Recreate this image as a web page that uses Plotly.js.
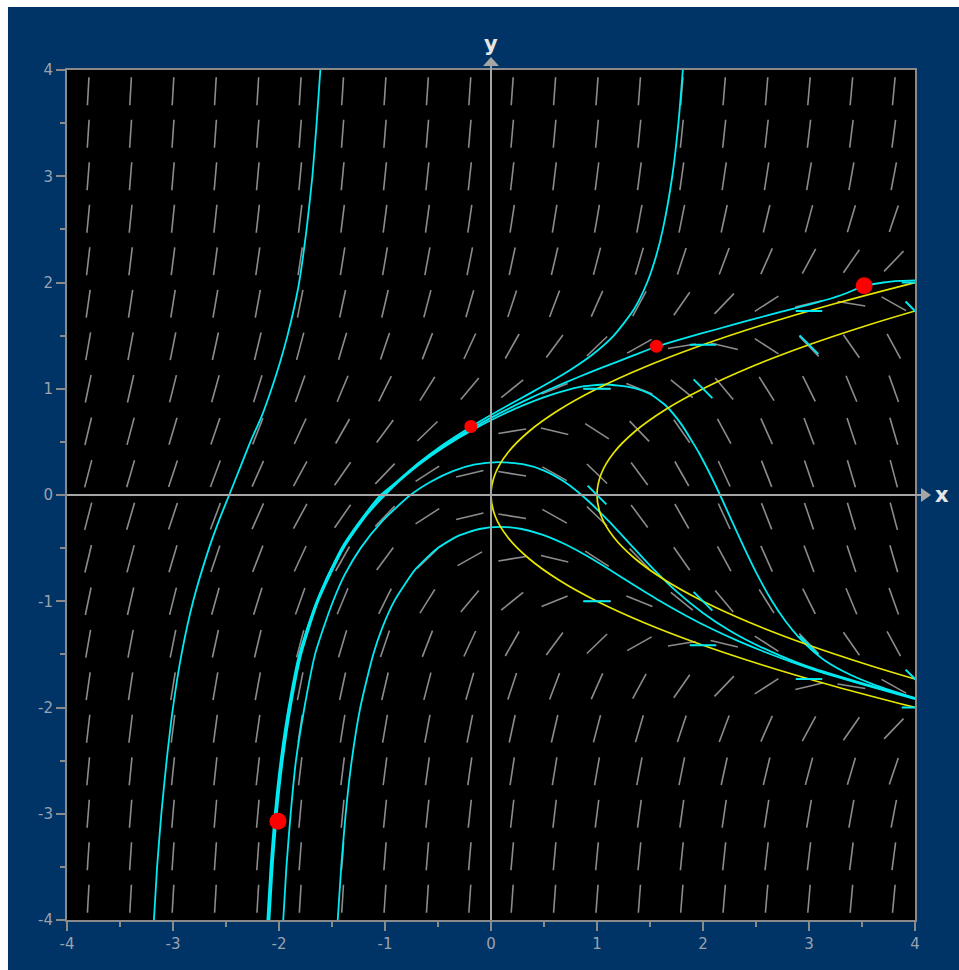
<!DOCTYPE html>
<html>
<head>
<meta charset="utf-8">
<script src="https://cdn.plot.ly/plotly-3.0.1.min.js"></script>
<style>html,body{margin:0;padding:0;background:#fff;}#chart{width:959px;height:970px;}</style>
</head>
<body>
<div id="chart"></div>
<script>
// ---- Direction field of y' = y^2 - x ----
const gridX = [-3.8,-3.4,-3.0,-2.6,-2.2,-1.8,-1.4,-1.0,-0.6,-0.2,0.2,0.6,1.0,1.4,1.8,2.2,2.6,3.0,3.4,3.8];
const gridY = [-3.8,-3.4,-3.0,-2.6,-2.2,-1.8,-1.4,-1.0,-0.6,-0.2,0.2,0.6,1.0,1.4,1.8,2.2,2.6,3.0,3.4,3.8];
function slope(x, y) { return y * y - x; }

// ---- Isoclines (yellow) ----
const iso0Y = [-2,-1.8,-1.6,-1.4,-1.2,-1,-0.8,-0.6,-0.4,-0.2,0,0.2,0.4,0.6,0.8,1,1.2,1.4,1.6,1.8,2];
const iso0X = [4,3.24,2.56,1.96,1.44,1,0.64,0.36,0.16,0.04,0,0.04,0.16,0.36,0.64,1,1.44,1.96,2.56,3.24,4];
const iso1Y = [-1.732,-1.6,-1.4,-1.2,-1,-0.8,-0.6,-0.4,-0.2,0,0.2,0.4,0.6,0.8,1,1.2,1.4,1.6,1.732];
const iso1X = [4,3.56,2.96,2.44,2,1.64,1.36,1.16,1.04,1,1.04,1.16,1.36,1.64,2,2.44,2.96,3.56,4];

// ---- Solution curves (cyan) ----
const c1X = [-3.18,-3.15,-3.11,-3.06,-3.0,-2.92,-2.81,-2.66,-2.57,-2.47,-2.37,-2.27,-2.16,-2.07,-1.99,-1.92,-1.86,-1.81,-1.74,-1.685,-1.645,-1.61];
const c1Y = [-4,-3.5,-3,-2.5,-2,-1.5,-1,-0.5,-0.25,0,0.25,0.5,0.75,1,1.25,1.5,1.75,2,2.5,3,3.5,4];

const c2X = [-2.10,-2.07,-2.03,-1.975,-1.90,-1.80,-1.73,-1.64,-1.535,-1.40,-1.23,-1.02,-0.93,-0.68,-0.43,-0.18,0.07,0.32,0.57,0.82,1.07,1.32,1.57,1.82,2.13,2.44,2.76,3.07,3.3,3.52,3.7,3.86,4.0];
const c2Y = [-4,-3.5,-3,-2.5,-2,-1.5,-1.25,-1,-0.75,-0.5,-0.25,0,0.08,0.294,0.472,0.627,0.764,0.888,1.002,1.108,1.208,1.304,1.40,1.475,1.56,1.645,1.73,1.81,1.88,1.965,2.0,2.015,2.02];

const c3X = [-1.96,-1.93,-1.89,-1.84,-1.76,-1.66,-1.58,-1.49,-1.38,-1.23,-1.03,-0.76,-0.56,-0.36,-0.16,0.07,0.3,0.5,0.7,0.9,1.1,1.3,1.5,1.75,2.0,2.25,2.5,2.75,3.0,3.5,4.0];
const c3Y = [-4,-3.5,-3,-2.5,-2,-1.5,-1.25,-1,-0.75,-0.5,-0.25,0,0.13,0.225,0.285,0.31,0.29,0.23,0.12,-0.04,-0.235,-0.449,-0.664,-0.907,-1.11,-1.275,-1.409,-1.521,-1.618,-1.771,-1.909];

const c4X = [-1.446,-1.413,-1.371,-1.314,-1.233,-1.111,-1.026,-0.91,-0.71,-0.51,-0.31,-0.11,0.09,0.29,0.49,0.69,0.89,1.09,1.34,1.59,1.84,2.09,2.34,2.59,2.84,3.09,3.59,4.0];
const c4Y = [-4,-3.5,-3,-2.5,-2,-1.5,-1.25,-0.994,-0.696,-0.505,-0.385,-0.32,-0.30,-0.32,-0.375,-0.459,-0.565,-0.685,-0.842,-0.995,-1.136,-1.264,-1.378,-1.48,-1.573,-1.659,-1.806,-1.922];

const c5X = [-2.09,-2.06,-2.02,-1.965,-1.89,-1.79,-1.63,-1.39,-1.17,-0.92,-0.67,-0.42,-0.17,0.08,0.33,0.58,0.83,1.08,1.33,1.5,1.65,1.8,1.9,1.96,2.065,2.161,2.275,2.39,2.512,2.652,2.777,2.902,3.027,3.152,3.4,3.7,4.0];
const c5Y = [-4,-3.5,-3,-2.5,-2,-1.5,-1,-0.5,-0.185,0.08,0.291,0.466,0.615,0.744,0.855,0.947,1.016,1.04,1.01,0.95,0.84,0.66,0.5,0.4,0.2,0,-0.25,-0.5,-0.75,-1,-1.186,-1.338,-1.46,-1.559,-1.696,-1.816,-1.914];

const c6X = [-2.11,-2.08,-2.04,-1.985,-1.91,-1.81,-1.645,-1.41,-1.24,-1.04,-0.94,-0.69,-0.45,-0.242,-0.042,0.158,0.358,0.558,0.758,0.958,1.158,1.35,1.473,1.558,1.621,1.71,1.768,1.81];
const c6Y = [-4,-3.5,-3,-2.5,-2,-1.5,-1,-0.5,-0.25,0,0.082,0.296,0.475,0.61,0.729,0.842,0.952,1.063,1.183,1.322,1.5,1.75,2.0,2.25,2.5,3,3.5,4];

// ---- Tangent marks (cyan) at points on the isoclines ----
const markX = [0,1,1,2,2,3,3,4,4,1,2,2,3,3,4,4];
const markY = [0,1,-1,1.414,-1.414,1.732,-1.732,2,-2,0,1,-1,1.414,-1.414,1.732,-1.732];
const markS = [0,0,0,0,0,0,0,0,0,-1,-1,-1,-1,-1,-1,-1];

// ---- Initial points (red) ----
const ptX = [-2.01,-0.19,1.56,3.52];
const ptY = [-3.07,0.645,1.40,1.97];
const ptSize = [17,13,13,17];

const tickVals = [-4,-3,-2,-1,0,1,2,3,4];
const tickText = ['-4','-3','-2','-1','0','1','2','3','4'];

// build field segments
const SEG = 0.265;
const fx = [], fy = [];
for (const gx of gridX) for (const gy of gridY) {
  const s = slope(gx, gy);
  const n = Math.sqrt(1 + s * s);
  const dx = SEG / 2 / n, dy = SEG / 2 * s / n;
  fx.push(gx - dx, gx + dx, null);
  fy.push(gy - dy, gy + dy, null);
}
const mx = [], my = [];
const ML = 0.25;
for (let i = 0; i < markX.length; i++) {
  const n = Math.sqrt(1 + markS[i] * markS[i]);
  const dx = ML / 2 / n, dy = ML / 2 * markS[i] / n;
  mx.push(markX[i] - dx, markX[i] + dx, null);
  my.push(markY[i] - dy, markY[i] + dy, null);
}

const CYAN = '#00eaf2';
const curve = (x, y) => ({x, y, mode: 'lines', type: 'scatter', hoverinfo: 'skip',
  line: {color: CYAN, width: 1.8, shape: 'spline', smoothing: 0.6}});

const traces = [
  {x: fx, y: fy, mode: 'lines', type: 'scatter', hoverinfo: 'skip', line: {color: '#8c8c8c', width: 1.6}},
  curve(c1X, c1Y), curve(c2X, c2Y), curve(c3X, c3Y), curve(c4X, c4Y), curve(c5X, c5Y), curve(c6X, c6Y),
  {x: iso0X, y: iso0Y, mode: 'lines', type: 'scatter', hoverinfo: 'skip', line: {color: '#e6e600', width: 1.7, shape: 'spline'}},
  {x: iso1X, y: iso1Y, mode: 'lines', type: 'scatter', hoverinfo: 'skip', line: {color: '#e6e600', width: 1.7, shape: 'spline'}},
  {x: mx, y: my, mode: 'lines', type: 'scatter', hoverinfo: 'skip', line: {color: CYAN, width: 2}},
  {x: ptX, y: ptY, mode: 'markers', type: 'scatter', hoverinfo: 'skip', cliponaxis: false,
    marker: {color: '#ff0000', size: ptSize, opacity: 1, line: {width: 0}}}
];

const AX = {
  range: [-4, 4], showgrid: false, zeroline: false, showline: true, mirror: true,
  linecolor: '#8a8a8a', linewidth: 2, ticks: 'outside', ticklen: 9, tickwidth: 2, tickcolor: '#8a8a8a',
  tickvals: tickVals, ticktext: tickText, fixedrange: true,
  tickfont: {family: 'DejaVu Sans, Verdana, sans-serif', size: 15, color: '#9aa2b0'},
  minor: {dtick: 0.5, ticklen: 5, tickwidth: 2, tickcolor: '#8a8a8a', showgrid: false}
};

const layout = {
  width: 959, height: 970,
  margin: {l: 67, r: 44, t: 70, b: 50, pad: 0},
  paper_bgcolor: '#003366', plot_bgcolor: '#000000',
  showlegend: false,
  xaxis: Object.assign({}, AX),
  yaxis: Object.assign({}, AX),
  shapes: [
    {type: 'rect', xref: 'paper', yref: 'paper', x0: -0.08, x1: 1.06, y0: 1.0741, y1: 1.09, fillcolor: '#ffffff', line: {width: 0}, layer: 'above'},
    {type: 'rect', xref: 'paper', yref: 'paper', x0: -0.08, x1: -0.0696, y0: -0.06, y1: 1.09, fillcolor: '#ffffff', line: {width: 0}, layer: 'above'},
    {type: 'line', xref: 'paper', yref: 'paper', x0: 0.5, x1: 0.5, y0: 0, y1: 1.006, line: {color: '#a6a6a6', width: 2}, layer: 'above'},
    {type: 'line', xref: 'paper', yref: 'paper', x0: 0, x1: 1.008, y0: 0.5, y1: 0.5, line: {color: '#a6a6a6', width: 2}, layer: 'above'},
    {type: 'path', xref: 'paper', yref: 'paper', path: 'M 0.4906 1.0047 L 0.5094 1.0047 L 0.5 1.0153 Z', fillcolor: '#a6a6a6', line: {width: 0}, layer: 'above'},
    {type: 'path', xref: 'paper', yref: 'paper', path: 'M 1.0071 0.4918 L 1.0071 0.5082 L 1.0189 0.5 Z', fillcolor: '#a6a6a6', line: {width: 0}, layer: 'above'}
  ],
  annotations: [
    {xref: 'paper', yref: 'paper', x: 0.5, y: 1.031, xanchor: 'center', yanchor: 'middle', text: '<b>y</b>', showarrow: false,
      font: {family: 'DejaVu Sans, Verdana, sans-serif', size: 21, color: '#e6e6e6'}},
    {xref: 'paper', yref: 'paper', x: 1.032, y: 0.5, xanchor: 'center', yanchor: 'middle', text: '<b>x</b>', showarrow: false,
      font: {family: 'DejaVu Sans, Verdana, sans-serif', size: 21, color: '#e6e6e6'}}
  ]
};

Plotly.newPlot('chart', traces, layout, {displayModeBar: false, staticPlot: true});
</script>
</body>
</html>
